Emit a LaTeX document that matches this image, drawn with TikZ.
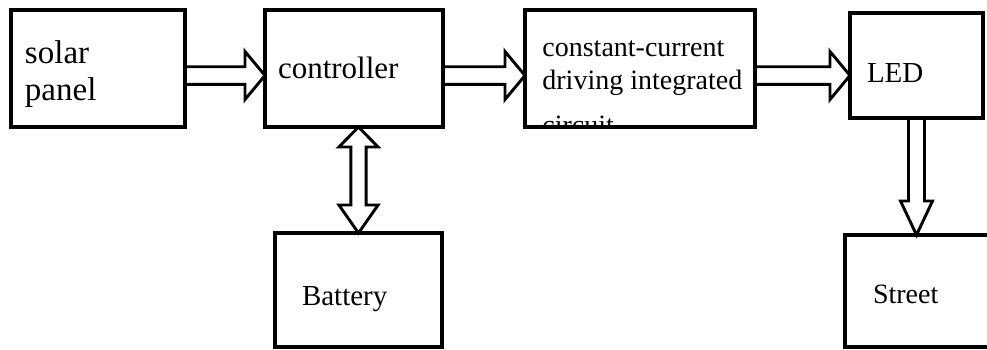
\documentclass[tikz,border=0pt]{standalone}
\usepackage{fontspec}
\setmainfont{Liberation Serif}
\usetikzlibrary{calc}
\tikzset{
  % style of the boxes of the lamp
  block/.style={draw, line width=1.9pt, rectangle, anchor=north west,
    outer sep=0pt, inner ysep=0pt, align=left, text depth=0pt},
  % style of the hollow arrows between the boxes
  fat arrow/.style={draw, line width=1.45pt, line join=miter},
}
% hollow arrow from box #1 to box #2 on its right
\newcommand{\fatright}[2]{%
  \draw[fat arrow] let \p1=([yshift=-3.5pt]#1.east), \p2=(#2.west) in
    (\x1,\y1+4.4pt) -- (\x2-10pt,\y1+4.4pt) -- (\x2-10pt,\y1+12pt) -- (\x2,\y1)
    -- (\x2-10pt,\y1-12pt) -- (\x2-10pt,\y1-4.4pt) -- (\x1,\y1-4.4pt);}
% hollow arrow from box #1 down to box #2
\newcommand{\fatdown}[2]{%
  \draw[fat arrow] let \p1=(#1.south), \p2=(#2.north) in
    (\x1-4pt,\y1) -- (\x1-4pt,\y2+17pt) -- (\x1-8pt,\y2+17pt) -- (\x1,\y2)
    -- (\x1+8pt,\y2+17pt) -- (\x1+4pt,\y2+17pt) -- (\x1+4pt,\y1);}
% hollow arrow with two heads between box #1 and box #2 below it
\newcommand{\fatboth}[2]{%
  \draw[fat arrow] let \p1=(#1.south), \p2=(#2.north) in
    (\x2,\y1) -- (\x2+9.8pt,\y1-10pt) -- (\x2+3.8pt,\y1-10pt) -- (\x2+3.8pt,\y2+14pt)
    -- (\x2+9.8pt,\y2+14pt) -- (\x2,\y2) -- (\x2-9.8pt,\y2+14pt) -- (\x2-3.8pt,\y2+14pt)
    -- (\x2-3.8pt,\y1-10pt) -- (\x2-9.8pt,\y1-10pt) -- cycle;}

\begin{document}
\begin{tikzpicture}[x=0.5pt, y=-0.5pt]
\useasboundingbox (0,0) rectangle (987,349);
% top row
\node[block, minimum width=87pt, minimum height=58.5pt, inner xsep=7pt, text width=73pt,
  text height=11pt, text depth=16.5pt, font=\fontsize{16.5}{18.5}\selectfont] (solar) at (11,10) {solar\\panel};
\node[block, minimum width=89pt, minimum height=58.5pt, inner xsep=6.5pt, text width=76pt,
  text height=9.5pt, font=\fontsize{15.5}{18}\selectfont] (ctrl) at (265,10) {controller};
\node[block, minimum width=115pt, minimum height=58.5pt] (cc) at (525,10) {};
\begin{scope}
  \clip (cc.north west) rectangle (cc.south east);
  \node[anchor=base west, inner sep=0pt, align=left, font=\fontsize{14}{16.5}\selectfont] (cctext)
    at ([xshift=8.5pt, yshift=-62pt]cc.north west) {constant-current\\driving integrated\\[6pt]circuit};
\end{scope}
\node[block, minimum width=66.5pt, minimum height=52.5pt, inner xsep=8.5pt, text width=49.5pt,
  text height=16.5pt, font=\fontsize{14.5}{17}\selectfont] (led) at (850,13) {LED};
% bottom row
\node[block, minimum width=83.5pt, minimum height=57pt, inner xsep=13.5pt, text width=56.5pt,
  text height=15pt, font=\fontsize{14.5}{17}\selectfont] (batt) at (275,233) {Battery};
\node[block, minimum width=80pt, minimum height=56pt, inner xsep=14pt, text width=52pt,
  text height=12pt, font=\fontsize{14}{17}\selectfont] (street) at (845,235) {Street};
% arrows
\fatright{solar}{ctrl}
\fatright{ctrl}{cc}
\fatright{cc}{led}
\fatboth{ctrl}{batt}
\fatdown{led}{street}
\end{tikzpicture}
\end{document}
